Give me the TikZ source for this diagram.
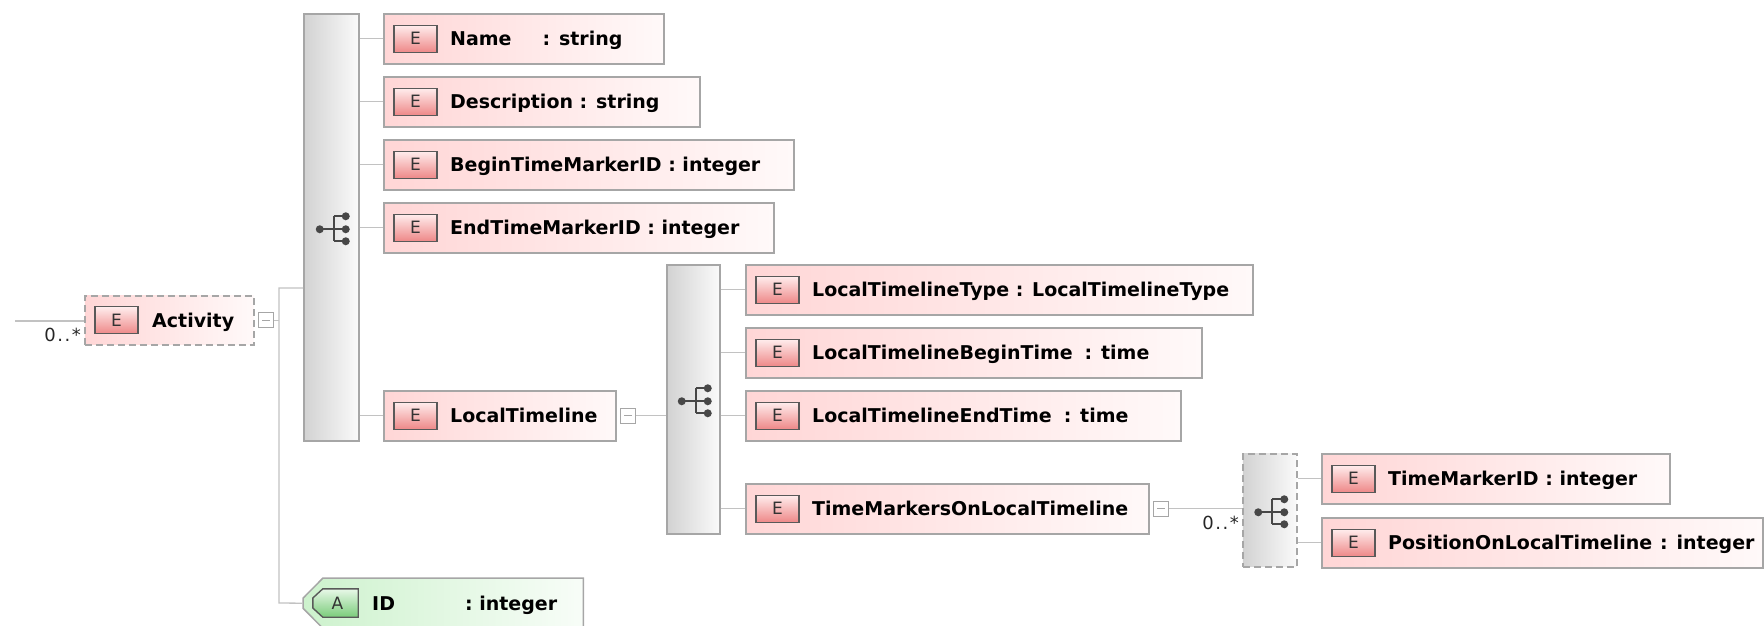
\documentclass[tikz,border=0pt]{standalone}
\usepackage{fontspec}
\setmainfont{DejaVu Sans}
\usetikzlibrary{calc}

\definecolor{elemL}{HTML}{FFD6D6}
\definecolor{elemR}{HTML}{FFF9F9}
\definecolor{badgeTop}{HTML}{FFEDED}
\definecolor{badgeBot}{HTML}{EE8888}
\definecolor{attrL}{HTML}{CDF2CD}
\definecolor{attrR}{HTML}{F8FDF8}
\definecolor{abadgeTop}{HTML}{E8F8E8}
\definecolor{abadgeBot}{HTML}{7ACC7A}
\definecolor{seqL}{HTML}{D2D2D2}
\definecolor{seqR}{HTML}{FAFAFA}
\definecolor{edge}{HTML}{A6A6A6}
\definecolor{wirec}{HTML}{C2C2C2}
\definecolor{iconc}{HTML}{474747}

% element box: name, left x, top y, width, text
\newcommand{\Elem}[5]{%
  \node[elem, minimum width=#4pt] (#1) at (#2,#3) {};
  \node[ebadge] (#1b) at ($(#1.west)+(32.5,0)$) {E};
  \node[etext] (#1t) at ($(#1.west)+(67,7)$) {#5};
}
% collapse box right of an element
\newcommand{\Collapse}[1]{%
  \node[minusbox] (#1m) at ($(#1.east)+(11.5,0)$) {};
  \draw[minusline] ($(#1m.center)+(-4,0)$) -- ($(#1m.center)+(4,0)$);
}
% sequence compositor icon inside a compositor box
\newcommand{\SeqIcon}[1]{%
  \begin{scope}[shift={($(#1.center)+(1.5,2)$)}]
    \draw[iconline] (-13,0) -- (1,0);
    \draw[iconline] (1,-13) -- (1,12);
    \draw[iconline] (1,-13) -- (13,-13);
    \draw[iconline] (1,0) -- (13,0);
    \draw[iconline] (1,12) -- (13,12);
    \fill[iconc] (-13,0) circle (4pt);
    \fill[iconc] (13,-13) circle (4pt);
    \fill[iconc] (13,0) circle (4pt);
    \fill[iconc] (13,12) circle (4pt);
  \end{scope}
}

\begin{document}
\begin{tikzpicture}[x=1pt,y=-1pt,
  wire/.style={draw=wirec, line width=1.3pt},
  elem/.style={draw=edge, line width=1.5pt, left color=elemL, right color=elemR,
    minimum height=50pt, inner sep=0pt, anchor=north west},
  optional/.style={dash pattern=on 7pt off 4pt},
  seqbox/.style={draw=edge, line width=1.5pt, left color=seqL, right color=seqR,
    inner sep=0pt, anchor=north west},
  ebadge/.style={draw=gray!70!black, line width=1.4pt, top color=badgeTop, bottom color=badgeBot,
    minimum width=43pt, minimum height=27pt, inner sep=0pt,
    font=\fontsize{17}{17}\selectfont, text=black!80},
  etext/.style={font=\bfseries\fontsize{19}{19}\selectfont, anchor=base west, inner sep=0pt},
  multip/.style={font=\fontsize{18}{18}\selectfont, anchor=base east, inner sep=0pt, text=black!85},
  minusbox/.style={draw=edge, line width=1pt, fill=white, minimum size=15pt, inner sep=0pt},
  minusline/.style={draw=gray!70, line width=1pt},
  iconline/.style={draw=iconc, line width=2.3pt},
]
\useasboundingbox (0,0) rectangle (1764,625);

% root element
\node[elem, optional, minimum width=169pt, minimum height=49pt] (act) at (84,295) {};
\node[ebadge] (actb) at ($(act.west)+(32.5,0)$) {E};
\node[etext] (actt) at ($(act.west)+(68,7)$) {Activity};
\Collapse{act}
\coordinate (in) at (15,321);
\draw[wire] (in) -- (in -| act.west);
\node[multip] (actc) at (81,341) {0\kern1.5pt.\kern1.5pt.\kern1.5pt*};

% first sequence
\node[seqbox, minimum width=55pt, minimum height=427pt] (seq1) at (303,13) {};
\SeqIcon{seq1}

\Elem{name}{383}{13}{280}{Name\hspace{31pt}: string}
\Elem{desc}{383}{76}{316}{Description : string}
\Elem{btm}{383}{139}{410}{BeginTimeMarkerID : integer}
\Elem{etm}{383}{202}{390}{EndTimeMarkerID : integer}
\Elem{lt}{383}{390}{232}{LocalTimeline}
\Collapse{lt}

% second sequence
\node[seqbox, minimum width=53pt, minimum height=269pt] (seq2) at (666,264) {};
\SeqIcon{seq2}

\Elem{ltt}{745}{264}{507}{LocalTimelineType : LocalTimelineType}
\Elem{ltb}{745}{327}{456}{LocalTimelineBeginTime\hspace{12pt}: time}
\Elem{lte}{745}{390}{435}{LocalTimelineEndTime\hspace{12pt}: time}
\Elem{tm}{745}{483}{403}{TimeMarkersOnLocalTimeline}
\Collapse{tm}

% third sequence (optional, repeating)
\node[seqbox, optional, minimum width=54pt, minimum height=113pt] (seq3) at (1242,453) {};
\SeqIcon{seq3}
\node[multip] (seq3c) at (1239,529) {0\kern1.5pt.\kern1.5pt.\kern1.5pt*};

\Elem{tmid}{1321}{453}{348}{TimeMarkerID : integer}
\Elem{pos}{1321}{517}{441}{PositionOnLocalTimeline\hspace{8pt}: integer}

% attribute
\node[minimum width=280pt, minimum height=50pt, inner sep=0pt, anchor=north west] (id) at (303,578) {};
\path[draw=edge, line width=1.5pt, left color=attrL, right color=attrR]
  ($(id.north west)+(20,0)$) -- (id.north east) -- (id.south east)
  -- ($(id.south west)+(20,0)$) -- ($(id.west)+(0,5)$) -- ($(id.west)+(0,-5)$) -- cycle;
\node[minimum width=45pt, minimum height=28pt, inner sep=0pt] (idb) at (335.5,603) {};
\path[draw=gray!70!black, line width=1.4pt, top color=abadgeTop, bottom color=abadgeBot]
  ($(idb.north west)+(10,0)$) -- (idb.north east) -- (idb.south east)
  -- ($(idb.south west)+(10,0)$) -- ($(idb.west)+(0,5)$) -- ($(idb.west)+(0,-5)$) -- cycle;
\node[font=\fontsize{17}{17}\selectfont, text=black!80, inner sep=0pt] (idbt) at ($(idb.center)+(2,0)$) {A};
\node[etext] (idt) at ($(id.west)+(69,7)$) {ID\hspace{70pt}: integer};

% connectors
\coordinate (j1) at (279,288);
\coordinate (j2) at (279,603);
\draw[wire] (actm.east) -- (actm.east -| j1);
\draw[wire] (seq1.west |- j1) -- (j1) -- (j2) -- (id.west);
\foreach \c in {name,desc,btm,etm,lt}
  \draw[wire] (seq1.east |- \c.west) -- (\c.west);
\draw[wire] (ltm.east) -- (ltm.east -| seq2.west);
\foreach \c in {ltt,ltb,lte,tm}
  \draw[wire] (seq2.east |- \c.west) -- (\c.west);
\draw[wire] (tmm.east) -- (tmm.east -| seq3.west);
\foreach \c in {tmid,pos}
  \draw[wire] (seq3.east |- \c.west) -- (\c.west);
\end{tikzpicture}
\end{document}
